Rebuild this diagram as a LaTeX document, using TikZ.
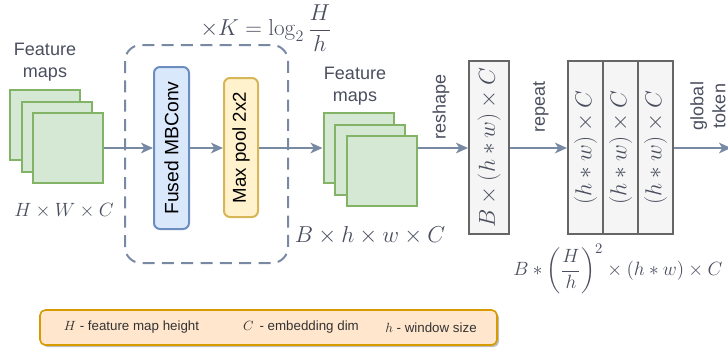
\documentclass[tikz,border=0pt]{standalone}
\usepackage{amsmath}
\usepackage[no-math]{fontspec}
\setmainfont{Liberation Sans}
\usetikzlibrary{arrows.meta,shadows}
\definecolor{txt}{HTML}{4A4E5E}
\definecolor{arr}{HTML}{788AA3}
\definecolor{gfill}{HTML}{D5E8D4}\definecolor{gline}{HTML}{82B366}
\definecolor{bfill}{HTML}{DAE8FC}\definecolor{bline}{HTML}{6C8EBF}
\definecolor{yfill}{HTML}{FFF2CC}\definecolor{yline}{HTML}{D6B656}
\definecolor{kfill}{HTML}{F5F5F5}\definecolor{kline}{HTML}{666666}
\definecolor{ofill}{HTML}{FFE6CC}\definecolor{oline}{HTML}{D79B00}
\tikzset{
  lbl/.style={text=txt,font=\fontsize{13.5}{16.5}\selectfont,align=center,inner sep=0pt},
  mth/.style={text=txt,font=\fontsize{15.5}{18}\selectfont,inner sep=0pt},
  sq/.style={draw=gline,fill=gfill,line width=1.5pt,minimum width=52.5pt,minimum height=52.5pt,inner sep=0pt},
  blockbox/.style={rounded corners=4.5pt,line width=1.5pt,inner sep=0pt},
  grid/.style={draw=kline,fill=kfill,line width=1.5pt,inner sep=0pt,minimum height=129.75pt},
  conn/.style={draw=arr,line width=1.5pt,-{Stealth[length=9pt,width=8pt,inset=2.5pt]}},
}
\begin{document}
\begin{tikzpicture}[x=0.75pt,y=-0.75pt]
\useasboundingbox (0,0) rectangle (728,350);
% input feature maps
\node[sq] (f1a) at (45,125) {};
\node[sq] (f1b) at (56.5,136.5) {};
\node[sq] (f1c) at (68,148) {};
\node[lbl] (t1) at (45,62) {Feature\\maps};
\node[mth] (d1) at (64,211) {$H\times W\times C$};
% dashed repeat block
\draw[draw=arr,line width=1.5pt,dash pattern=on 9pt off 5.5pt,rounded corners=12pt] (125,45) rectangle (288,263);
\node[mth,font=\fontsize{16.5}{19}\selectfont] (k) at (266,28) {$\times K=\log_2\dfrac{H}{h}$};
\node[blockbox,draw=bline,fill=bfill,minimum width=26.25pt,minimum height=121.5pt] (mb) at (171.5,148) {};
\node[rotate=90,font=\fontsize{14.5}{16}\selectfont,inner sep=0pt] at (mb.center) {Fused MBConv};
\node[blockbox,draw=yline,fill=yfill,minimum width=25.5pt,minimum height=104.25pt] (mp) at (241,147.5) {};
\node[rotate=90,font=\fontsize{14}{16}\selectfont,inner sep=0pt] at (mp.center) {Max pool 2x2};
% output feature maps
\node[sq] (f2a) at (358.5,148) {};
\node[sq] (f2b) at (370,159.5) {};
\node[sq] (f2c) at (382,171) {};
\node[lbl] (t2) at (355,86) {Feature\\maps};
\node[mth,font=\fontsize{17}{19}\selectfont] (d2) at (370,235) {$B\times h\times w\times C$};
% reshape box
\node[grid,minimum width=30pt] (r1) at (489,147.5) {};
\node[mth,rotate=90,font=\fontsize{18.5}{20}\selectfont] at (r1.center) {$B\times(h*w)\times C$};
% repeated cells
\node[grid,minimum width=26.25pt] (c1) at (585.5,147.5) {};
\node[grid,minimum width=26.25pt] (c2) at (620.5,147.5) {};
\node[grid,minimum width=26.25pt] (c3) at (655.5,147.5) {};
\foreach \c in {c1,c2,c3}{\node[mth,rotate=90,font=\fontsize{17.5}{20}\selectfont] at (\c.center) {$(h*w)\times C$};}
\node[mth,anchor=west,font=\fontsize{15.3}{18}\selectfont] (d3) at (513,269) {$B*\left(\dfrac{H}{h}\right)^{2}\times(h*w)\times C$};
% labels on arrows
\node[lbl,rotate=90] (l1) at (441,107) {reshape};
\node[lbl,rotate=90] (l2) at (541,107) {repeat};
\node[lbl,rotate=90] (l3) at (708,106) {global\\token};
\coordinate (endp) at (731,148);
% connectors
\draw[conn] (f1c.east |- 0,148) -- (mb.west);
\draw[conn] (mb.east) -- (mp.west |- mb.east);
\draw[conn] (mp.east |- mb.east) -- (f2a.west);
\draw[conn] (f2c.east |- 0,148) -- (r1.west |- 0,148);
\draw[conn] (r1.east |- 0,148) -- (c1.west |- 0,148);
\draw[conn] (c3.east |- 0,148) -- (endp);
% legend
\node[draw=oline,fill=ofill,line width=1.2pt,rounded corners=4pt,minimum width=342.75pt,minimum height=26.25pt,drop shadow={opacity=0.25,shadow xshift=1.5pt,shadow yshift=-1.5pt,fill=black}] (leg) at (268.5,327.5) {};
\node[lbl,text=black!80,font=\fontsize{10}{12}\selectfont] at (131.5,327.5) {$H$ - feature map height};
\node[lbl,text=black!80,font=\fontsize{10}{12}\selectfont] at (301,327.5) {$C$\, - embedding dim};
\node[lbl,text=black!80,font=\fontsize{10}{12}\selectfont] at (431,327.5) {$h$ - window size};
\end{tikzpicture}
\end{document}
